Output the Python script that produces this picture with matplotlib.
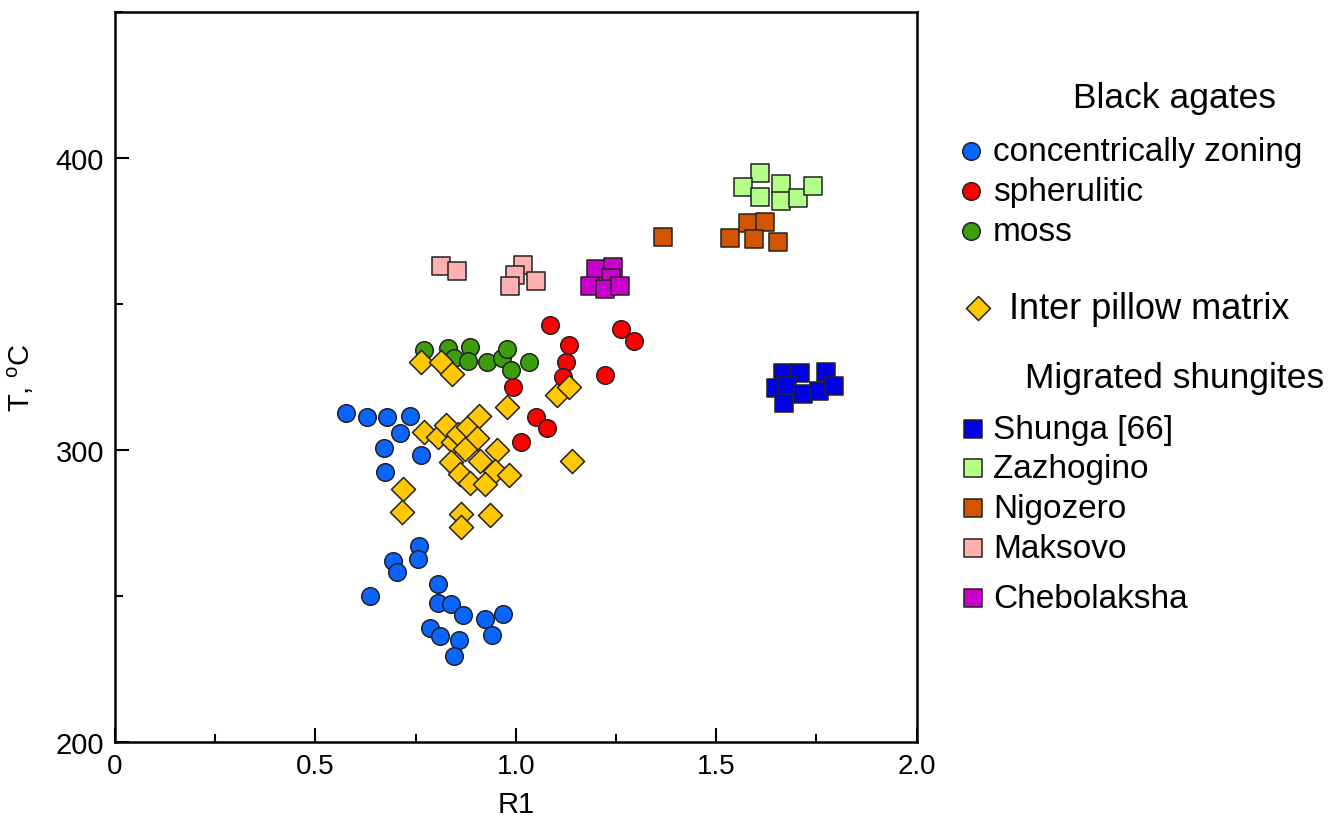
import matplotlib
matplotlib.use("Agg")
import matplotlib.pyplot as plt
from matplotlib.ticker import MultipleLocator

plt.rcParams['font.family'] = ['Liberation Sans', 'DejaVu Sans']
plt.rcParams['mathtext.default'] = 'regular'

# Black agates
conc_x = [0.577, 0.628, 0.678, 0.737, 0.712, 0.670, 0.763, 0.674,
          0.759, 0.755, 0.693, 0.703, 0.637, 0.805, 0.805, 0.838,
          0.868, 0.922, 0.967, 0.785, 0.811, 0.858, 0.941, 0.845]
conc_y = [312.6, 311.4, 311.2, 311.8, 305.7, 300.7, 298.4, 292.4,
          267.2, 262.7, 262.1, 258.1, 250.1, 254.1, 247.6, 247.3,
          243.5, 242.1, 243.8, 238.9, 236.4, 234.9, 236.7, 229.3]

spher_x = [1.086, 1.132, 1.126, 1.118, 0.992, 1.051, 1.078, 1.013, 1.223, 1.263, 1.294]
spher_y = [342.8, 336.1, 330.0, 324.9, 321.5, 311.2, 307.5, 302.6, 325.7, 341.4, 337.4]

moss_x = [0.770, 0.831, 0.886, 0.847, 0.881, 0.928, 0.966, 0.978, 0.989, 1.034]
moss_y = [334.3, 334.9, 335.4, 331.4, 330.6, 330.0, 331.4, 334.6, 327.5, 330.0]

# Inter pillow matrix
pillow_x = [0.764, 0.814, 0.841, 0.978, 1.104, 1.134, 1.140, 0.772, 0.807, 0.826,
            0.843, 0.856, 0.880, 0.909, 0.903, 0.874, 0.839, 0.861, 0.886, 0.911,
            0.953, 0.949, 0.924, 0.982, 0.718, 0.716, 0.864, 0.864, 0.936]
pillow_y = [330.2, 330.2, 326.0, 314.9, 318.8, 321.7, 296.1, 306.1, 304.6, 308.6,
            302.6, 305.5, 308.0, 311.7, 304.0, 300.3, 295.8, 291.8, 288.6, 296.3,
            300.0, 292.9, 288.4, 291.4, 286.6, 278.9, 278.1, 273.7, 277.7]

# Migrated shungites
shunga_x = [1.667, 1.709, 1.773, 1.650, 1.677, 1.717, 1.756, 1.793, 1.669]
shunga_y = [326.4, 326.4, 326.8, 321.1, 321.8, 319.2, 320.3, 321.8, 316.1]

zazh_x = [1.609, 1.567, 1.609, 1.662, 1.662, 1.704, 1.741]
zazh_y = [394.9, 390.0, 386.8, 391.1, 385.4, 386.2, 390.5]

nigo_x = [1.368, 1.534, 1.579, 1.623, 1.594, 1.654]
nigo_y = [372.8, 372.5, 377.7, 378.0, 372.3, 371.1]

maks_x = [0.813, 0.853, 1.019, 0.999, 0.985, 1.051]
maks_y = [362.9, 361.2, 363.4, 359.9, 356.1, 357.8]

cheb_x = [1.199, 1.243, 1.238, 1.184, 1.223, 1.261]
cheb_y = [362.0, 362.6, 358.9, 356.2, 355.0, 356.3]

fig = plt.figure(figsize=(13.38, 8.2), dpi=100)
ax = fig.add_axes([0.086, 0.094, 0.599, 0.890])

kw = dict(edgecolor='#222222', linewidths=1.1, zorder=3)
h_shunga = ax.scatter(shunga_x, shunga_y, marker='s', s=160, color='#0000e6', label='Shunga [66]', **kw)
h_zazh = ax.scatter(zazh_x, zazh_y, marker='s', s=160, color='#b4ff88', label='Zazhogino', **kw)
h_nigo = ax.scatter(nigo_x, nigo_y, marker='s', s=160, color='#d45500', label='Nigozero', **kw)
h_maks = ax.scatter(maks_x, maks_y, marker='s', s=160, color='#ffb0b0', label='Maksovo', **kw)
h_cheb = ax.scatter(cheb_x, cheb_y, marker='s', s=160, color='#cc00cc', label='Chebolaksha', **kw)
h_conc = ax.scatter(conc_x, conc_y, marker='o', s=160, color='#0a64ff', label='concentrically zoning', **kw)
h_spher = ax.scatter(spher_x, spher_y, marker='o', s=160, color='#ff0000', label='spherulitic', **kw)
h_moss = ax.scatter(moss_x, moss_y, marker='o', s=160, color='#3c9e0c', label='moss', **kw)
h_pillow = ax.scatter(pillow_x, pillow_y, marker='D', s=150, color='#ffc800', label='Inter pillow matrix', **kw)

ax.set_xlim(0, 2.0)
ax.set_ylim(200, 450)
ax.xaxis.set_major_locator(MultipleLocator(0.5))
ax.xaxis.set_minor_locator(MultipleLocator(0.25))
ax.yaxis.set_major_locator(MultipleLocator(100))
ax.yaxis.set_minor_locator(MultipleLocator(50))
ax.set_xticks([0, 0.5, 1.0, 1.5, 2.0])
ax.set_xticklabels(['0', '0.5', '1.0', '1.5', '2.0'])
ax.tick_params(which='both', direction='in', width=1.5)
ax.tick_params(axis='x', labelsize=20)
ax.tick_params(axis='y', labelsize=21)
ax.tick_params(which='major', length=10, pad=8)
ax.tick_params(which='minor', length=6)
for sp in ax.spines.values():
    sp.set_linewidth(1.8)
ax.set_xlabel('R1', fontsize=21, labelpad=8)
ax.set_ylabel('T, $^o$C', fontsize=21, labelpad=14)

# legends
leg_kw = dict(loc='upper left', frameon=False, handlelength=1.0,
              labelspacing=0.26, borderpad=0, borderaxespad=0)
fig.legend(handles=[h_conc, h_spher, h_moss], bbox_to_anchor=(0.7132, 0.8327),
           fontsize=24, handletextpad=0.16, **leg_kw)
fig.legend(handles=[h_pillow], bbox_to_anchor=(0.7175, 0.6440),
           fontsize=26, handletextpad=0.36, **leg_kw)
fig.legend(handles=[h_shunga, h_zazh, h_nigo, h_maks], bbox_to_anchor=(0.7147, 0.4945),
           fontsize=24, handletextpad=0.10, **leg_kw)
fig.legend(handles=[h_cheb], bbox_to_anchor=(0.7147, 0.2884),
           fontsize=24, handletextpad=0.10, **leg_kw)
fig.text(0.8778, 0.880, 'Black agates', fontsize=25.5, ha='center', va='center')
fig.text(0.878, 0.539, 'Migrated shungites', fontsize=25.5, ha='center', va='center')

fig.savefig('out.png', dpi=100)
